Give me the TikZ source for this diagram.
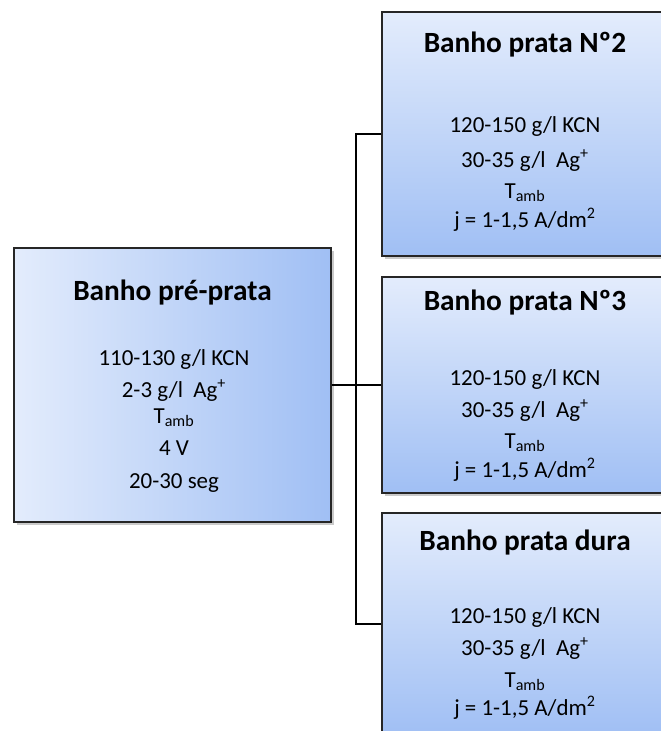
\documentclass[tikz,border=0pt]{standalone}
\usepackage{fontspec}
\setmainfont{Carlito}
\usetikzlibrary{shadows}
\definecolor{paleblue}{HTML}{E3ECFC}
\definecolor{deepblue}{HTML}{A0BFF4}
\tikzset{
  bath/.style={draw=black!85, line width=1.1pt, inner sep=0pt,
    drop shadow={shadow xshift=2pt, shadow yshift=-2pt, opacity=0.35, fill=black!60}},
  hbath/.style={bath, left color=paleblue, right color=deepblue},
  vbath/.style={bath, top color=paleblue, bottom color=deepblue},
  title/.style={anchor=base, font=\fontsize{22}{26}\selectfont\bfseries, inner sep=0pt},
  body/.style={anchor=base, font=\fontsize{17.2}{20}\selectfont, inner sep=0pt},
  wire/.style={line width=1.1pt, black}
}
\begin{document}
\begin{tikzpicture}[x=0.75pt, y=-0.75pt]
\useasboundingbox (0,0) rectangle (660,731);

% boxes
\node[hbath, minimum width=237.75pt, minimum height=205.5pt] (pre) at (172.5,385) {};
\node[vbath, minimum width=214.5pt, minimum height=183pt] (b2) at (525,134) {};
\node[vbath, minimum width=214.5pt, minimum height=162pt] (b3) at (525,385) {};
\node[vbath, minimum width=214.5pt, minimum height=166.5pt] (b4) at (525,624) {};

% connectors
\coordinate (j) at (356,385);
\draw[wire] (pre.east) -- (b3.west);
\draw[wire] (b2.west) -- (b2.west -| j) -- (b4.west -| j) -- (b4.west);

% pre-silver bath
\node[title] (t1) at (172.5,300) {Banho pré-prata};
\node[body] (l11) at (174,365) {110-130 g/l KCN};
\node[body] (l12) at (174,397) {2-3 g/l\ \ Ag\textsuperscript{+}};
\node[body] (l13) at (174,423) {T\textsubscript{amb}};
\node[body] (l14) at (174,455) {4 V};
\node[body] (l15) at (174,488) {20-30 seg};

% silver bath 2
\node[title] (t2) at (525,53) {Banho prata Nº2};
\node[body] (l21) at (525,133) {120-150 g/l KCN};
\node[body] (l22) at (525,167) {30-35 g/l\ \ Ag\textsuperscript{+}};
\node[body] (l23) at (525,198) {T\textsubscript{amb}};
\node[body] (l24) at (525,227) {j = 1-1,5 A/dm\textsuperscript{2}};

% silver bath 3
\node[title] (t3) at (525,310) {Banho prata Nº3};
\node[body] (l31) at (525,385) {120-150 g/l KCN};
\node[body] (l32) at (525,417) {30-35 g/l\ \ Ag\textsuperscript{+}};
\node[body] (l33) at (525,448) {T\textsubscript{amb}};
\node[body] (l34) at (525,477) {j = 1-1,5 A/dm\textsuperscript{2}};

% hard silver bath
\node[title] (t4) at (525,550) {Banho prata dura};
\node[body] (l41) at (525,623) {120-150 g/l KCN};
\node[body] (l42) at (525,655) {30-35 g/l\ \ Ag\textsuperscript{+}};
\node[body] (l43) at (525,687) {T\textsubscript{amb}};
\node[body] (l44) at (525,715) {j = 1-1,5 A/dm\textsuperscript{2}};
\end{tikzpicture}
\end{document}
